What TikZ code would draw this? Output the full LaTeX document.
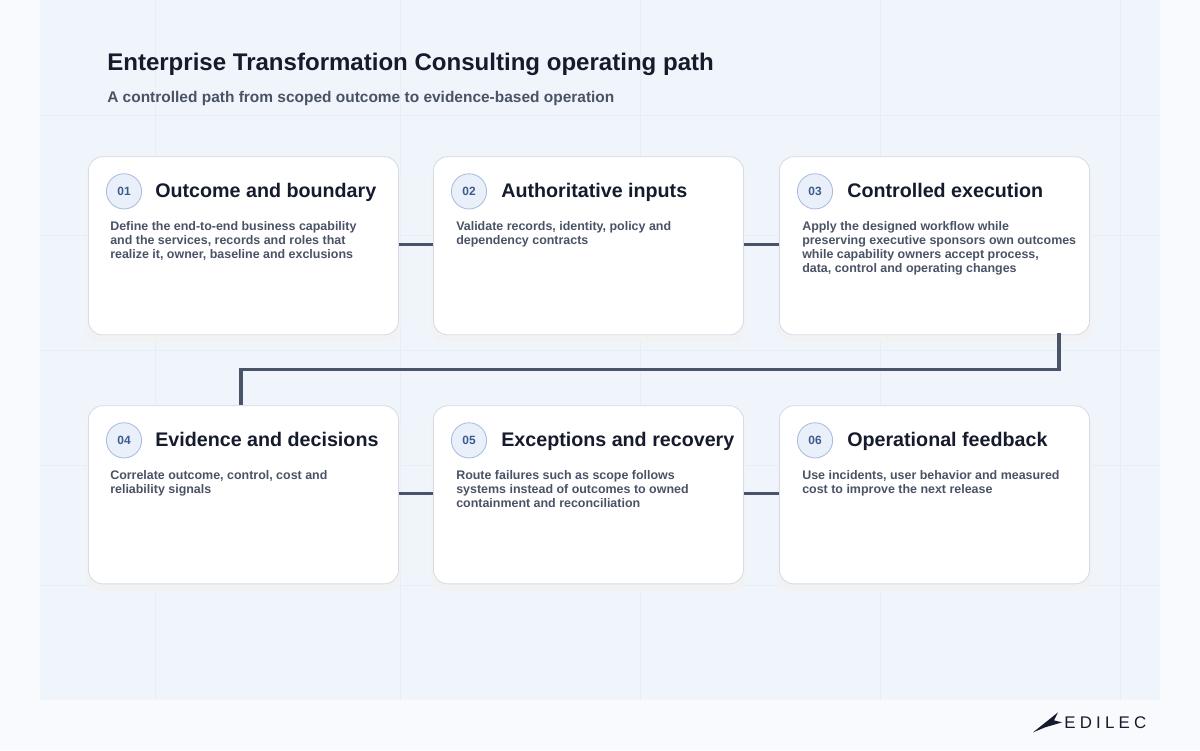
\documentclass[tikz,border=0pt]{standalone}
\usepackage{fontspec}
\setmainfont{Liberation Sans}
\usetikzlibrary{positioning}
\definecolor{pagebg}{HTML}{F8FAFD}
\definecolor{panelbg}{HTML}{F0F4FB}
\definecolor{gridcol}{HTML}{E9EEF6}
\definecolor{cardline}{HTML}{D5DCE8}
\definecolor{inkdark}{HTML}{151B2C}
\definecolor{inkbody}{HTML}{4A5366}
\definecolor{linkcol}{HTML}{4A5468}
\definecolor{badgefill}{HTML}{EAF0FA}
\definecolor{badgeline}{HTML}{A9BCE0}
\definecolor{badgetext}{HTML}{3D5A8F}

\begin{document}
\begin{tikzpicture}[
x=0.025cm, y=-0.025cm,
card/.style={draw=cardline, line width=0.6pt, fill=white, rounded corners=10pt,
  minimum width=7.75cm, minimum height=4.45cm, anchor=north west, inner sep=0pt},
shade/.style={fill=black!5, rounded corners=10pt, minimum width=7.85cm,
  minimum height=4.5cm, anchor=north west, inner sep=0pt},
badge/.style={circle, draw=badgeline, fill=badgefill, line width=0.6pt,
  minimum size=0.88cm, inner sep=0pt, text=badgetext, font=\bfseries\fontsize{8.5}{10}\selectfont},
heading/.style={anchor=west, text=inkdark, font=\bfseries\fontsize{14}{16}\selectfont,
  inner sep=0pt, text height=10pt, text depth=3pt},
body/.style={anchor=north west, text=inkbody, align=left, inner sep=0pt,
  font=\bfseries\fontsize{8.85}{10}\selectfont},
link/.style={draw=linkcol, line width=2.2pt},
]

% background
\fill[pagebg] (0,0) rectangle (1200,750);
\fill[panelbg] (40,0) rectangle (1160,700);
\foreach \gy in {115,235,350,465,585} \draw[gridcol, line width=0.5pt] (40,\gy) -- (1160,\gy);
\foreach \gx in {155,400,640,880,1120} \draw[gridcol, line width=0.5pt] (\gx,0) -- (\gx,700);

% title
\node[anchor=west, text=inkdark, font=\bfseries\fontsize{17.1}{20}\selectfont, inner sep=0pt]
  (title) at (107,64) {Enterprise Transformation Consulting operating path};
\node[anchor=west, text=inkbody, font=\bfseries\fontsize{11}{12}\selectfont, inner sep=0pt]
  (subtitle) at (107,98) {A controlled path from scoped outcome to evidence-based operation};

% cards
\foreach \n/\cx/\cy in {1/88/156, 2/433/156, 3/779/156, 4/88/405, 5/433/405, 6/779/405} {
  \node[shade] at (\cx-2,\cy+5) {};
  \node[card] (c\n) at (\cx,\cy) {};
  \node[badge] (b\n) at (\cx+36,\cy+35) {0\n};
}

\node[heading] (h1) at (155,192) {Outcome and boundary};
\node[heading] (h2) at (501,192) {Authoritative inputs};
\node[heading] (h3) at (847,192) {Controlled execution};
\node[heading] (h4) at (155,441) {Evidence and decisions};
\node[heading] (h5) at (501,441) {Exceptions and recovery};
\node[heading] (h6) at (847,441) {Operational feedback};

\node[body] (t1) at (110,221) {Define the end-to-end business capability\\and the services, records and roles that\\realize it, owner, baseline and exclusions};
\node[body] (t2) at (456,221) {Validate records, identity, policy and\\dependency contracts};
\node[body] (t3) at (802,221) {Apply the designed workflow while\\preserving executive sponsors own outcomes\\while capability owners accept process,\\data, control and operating changes};
\node[body] (t4) at (110,470) {Correlate outcome, control, cost and\\reliability signals};
\node[body] (t5) at (456,470) {Route failures such as scope follows\\systems instead of outcomes to owned\\containment and reconciliation};
\node[body] (t6) at (802,470) {Use incidents, user behavior and measured\\cost to improve the next release};

% connectors
\coordinate (k3) at (1059,333);
\coordinate (k4) at (241,405);
\draw[link] (c1.east |- 0,244) -- (c2.west |- 0,244);
\draw[link] (c2.east |- 0,244) -- (c3.west |- 0,244);
\draw[link] (k3) -- (1059,369) -- (241,369) -- (k4);
\draw[link] (c4.east |- 0,493) -- (c5.west |- 0,493);
\draw[link] (c5.east |- 0,493) -- (c6.west |- 0,493);

% logo
\fill[inkdark] (1033,732) -- (1058,712) -- (1054,720) -- (1062,722) -- (1045,727) -- cycle;
\node[anchor=west, text=inkdark, font=\fontsize{12}{14}\selectfont, inner sep=0pt]
  (logo) at (1064,722) {\addfontfeature{LetterSpace=25}EDILEC};
\end{tikzpicture}
\end{document}
